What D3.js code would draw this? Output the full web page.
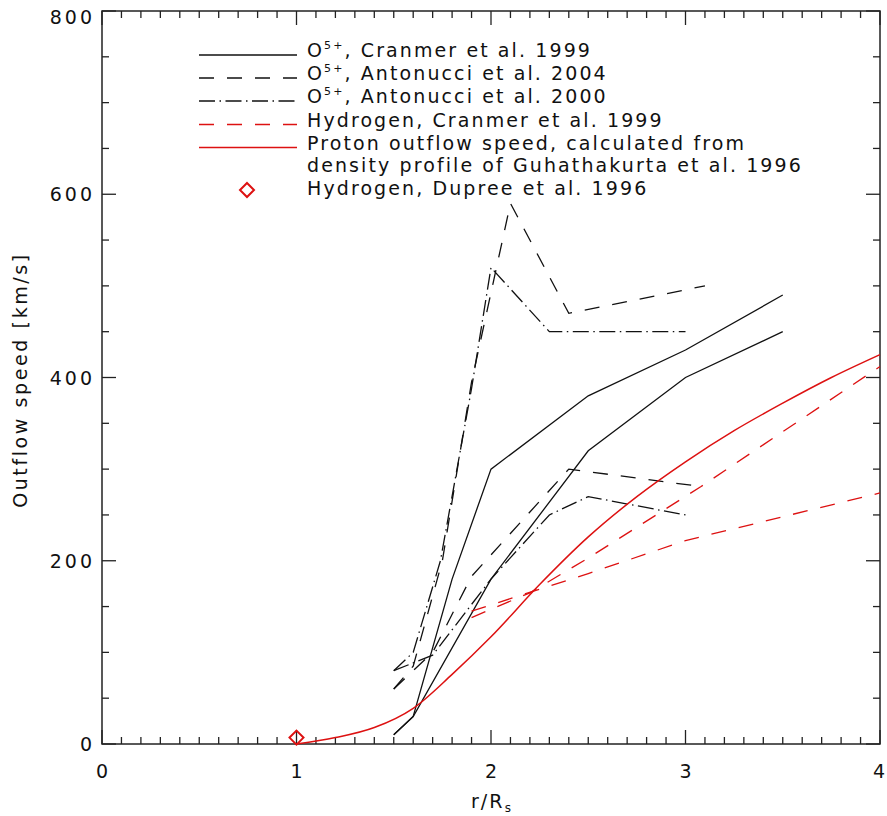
<!DOCTYPE html>
<html>
<head>
<meta charset="utf-8">
<script src="https://cdn.jsdelivr.net/npm/d3@7"></script>
<style>
  html, body { margin: 0; padding: 0; background: #fff; }
  svg text { font-family: "DejaVu Sans", sans-serif; fill: #111; }
</style>
</head>
<body>
<svg id="chart" width="887" height="816"></svg>
<script>
// ---------- data (r / Rs, outflow speed km/s) ----------
const xTickValues = [0, 1, 2, 3, 4];
const yTickValues = [0, 200, 400, 600, 800];

// O5+, Cranmer et al. 1999 (solid black, lower & upper bounds)
const o5CranmerUpper = [[1.5, 10], [1.6, 30], [1.8, 180], [2.0, 300], [2.5, 380], [3.0, 430], [3.5, 490]];
const o5CranmerLower = [[1.5, 10], [1.6, 30], [2.0, 180], [2.5, 320], [3.0, 400], [3.5, 450]];

// O5+, Antonucci et al. 2004 (dashed black)
const o5Antonucci04Upper = [[1.5, 60], [1.6, 85], [1.75, 200], [1.9, 395], [2.1, 590], [2.4, 470], [3.1, 500]];
const o5Antonucci04Lower = [[1.5, 60], [1.7, 100], [1.9, 183], [2.4, 300], [3.08, 281]];

// O5+, Antonucci et al. 2000 (dash-dot black)
const o5Antonucci00Upper = [[1.5, 80], [1.6, 100], [1.74, 200], [1.9, 388], [2.0, 520], [2.3, 450], [3.0, 450]];
const o5Antonucci00Lower = [[1.5, 80], [1.7, 97], [2.0, 180], [2.3, 250], [2.5, 270], [3.0, 250]];

// Hydrogen, Cranmer et al. 1999 (dashed red)
const hCranmerUpper = [[1.9, 138], [2.2, 165], [2.5, 203], [3.08, 281], [4.0, 412]];
const hCranmerLower = [[1.9, 145], [2.5, 186], [3.0, 222], [4.0, 274]];

// Proton outflow speed from Guhathakurta et al. 1996 density profile (solid red)
const protonSpeed = [[1.0, 0], [1.2, 7], [1.4, 18], [1.6, 39], [1.8, 76], [2.0, 117], [2.25, 174],
                     [2.5, 226], [2.75, 270], [3.0, 308], [3.25, 342], [3.5, 372], [3.75, 400], [4.0, 425]];

// Hydrogen, Dupree et al. 1996 (red diamond)
const hDupree = [[1.0, 7]];

const legendLabels = [
  ["O", "5+", ", Cranmer et al. 1999"],
  ["O", "5+", ", Antonucci et al. 2004"],
  ["O", "5+", ", Antonucci et al. 2000"],
  ["Hydrogen, Cranmer et al. 1999"],
  ["Proton outflow speed, calculated from", "density profile of Guhathakurta et al. 1996"],
  ["Hydrogen, Dupree et al. 1996"]
];

// ---------- layout ----------
const svg = d3.select("#chart");
const x = d3.scaleLinear().domain([0, 4]).range([102, 880]);
const y = d3.scaleLinear().domain([0, 800]).range([744, 11]);

const BLACK = "#111";
const RED = "#dd1111";
const DASH = "15,13";
const DASHDOT = "16,4.5,1.5,4.5";
const fontSize = 19;
const letterSp = 2.1;
const tickSp = 3;

// ---------- axes (ticks inward on all four sides) ----------
const axisG = svg.append("g").attr("stroke", "#222").attr("stroke-width", 1.3);
const xMinor = d3.range(0, 4.0001, 0.1);
const yMinor = d3.range(0, 800.001, 50);
xMinor.forEach(v => {
  const major = Math.abs(v - Math.round(v)) < 1e-6;
  const len = major ? 14 : 7;
  axisG.append("line").attr("x1", x(v)).attr("x2", x(v)).attr("y1", y(0)).attr("y2", y(0) - len);
  axisG.append("line").attr("x1", x(v)).attr("x2", x(v)).attr("y1", y(800)).attr("y2", y(800) + len);
});
yMinor.forEach(v => {
  const major = v % 200 === 0;
  const len = major ? 14 : 7;
  axisG.append("line").attr("y1", y(v)).attr("y2", y(v)).attr("x1", x(0)).attr("x2", x(0) + len);
  axisG.append("line").attr("y1", y(v)).attr("y2", y(v)).attr("x1", x(4)).attr("x2", x(4) - len);
});
svg.append("rect").attr("x", x(0)).attr("y", y(800)).attr("width", x(4) - x(0)).attr("height", y(0) - y(800))
  .attr("fill", "none").attr("stroke", "#222").attr("stroke-width", 1.5);

// tick labels
svg.append("g").selectAll("text").data(xTickValues).join("text")
  .attr("x", d => Math.min(x(d), 879)).attr("y", 778).attr("text-anchor", "middle")
  .attr("font-size", fontSize).text(d => d);
svg.append("g").selectAll("text").data(yTickValues).join("text")
  .attr("x", 92 + tickSp).attr("y", d => Math.max(y(d) + 7, 24)).attr("text-anchor", "end")
  .attr("font-size", fontSize).attr("letter-spacing", tickSp).text(d => d);

// axis titles
const xt = svg.append("text").attr("x", 492).attr("y", 808).attr("text-anchor", "middle")
  .attr("font-size", fontSize).attr("letter-spacing", letterSp);
xt.append("tspan").text("r/R");
xt.append("tspan").attr("font-size", 12).attr("dy", 4).text("s");
svg.append("text").attr("transform", "translate(27,380) rotate(-90)").attr("text-anchor", "middle")
  .attr("font-size", fontSize).attr("letter-spacing", 2.6).text("Outflow speed [km/s]");

// ---------- series ----------
const line = d3.line().x(d => x(d[0])).y(d => y(d[1]));
const smooth = d3.line().x(d => x(d[0])).y(d => y(d[1])).curve(d3.curveMonotoneX);
const plot = svg.append("g").attr("fill", "none").attr("stroke-width", 1.3);

const seriesDefs = [
  { data: o5CranmerUpper, color: BLACK, dash: null },
  { data: o5CranmerLower, color: BLACK, dash: null },
  { data: o5Antonucci04Upper, color: BLACK, dash: DASH },
  { data: o5Antonucci04Lower, color: BLACK, dash: DASH },
  { data: o5Antonucci00Upper, color: BLACK, dash: DASHDOT },
  { data: o5Antonucci00Lower, color: BLACK, dash: DASHDOT },
  { data: hCranmerUpper, color: RED, dash: DASH },
  { data: hCranmerLower, color: RED, dash: DASH }
];
seriesDefs.forEach(s => {
  plot.append("path").attr("d", line(s.data)).attr("stroke", s.color)
    .attr("stroke-dasharray", s.dash);
});
plot.append("path").attr("d", smooth(protonSpeed)).attr("stroke", RED).attr("stroke-width", 1.5);

const diamond = (cx, cy, r) => `M${cx},${cy - r}L${cx + r},${cy}L${cx},${cy + r}L${cx - r},${cy}Z`;
plot.selectAll(".dupree").data(hDupree).join("path").attr("class", "dupree")
  .attr("d", d => diamond(x(d[0]), y(d[1]), 7)).attr("stroke", RED).attr("stroke-width", 2);

// ---------- legend ----------
const lg = svg.append("g");
const lx1 = 199, lx2 = 297, tx = 307;
const rowY = [57, 80, 103, 126.5, 149.5, 195];
const legendStyles = [
  { color: BLACK, dash: null }, { color: BLACK, dash: DASH }, { color: BLACK, dash: DASHDOT },
  { color: RED, dash: DASH }, { color: RED, dash: null }
];
legendStyles.forEach((s, i) => {
  lg.append("line").attr("x1", lx1).attr("x2", lx2).attr("y1", rowY[i] - 2).attr("y2", rowY[i] - 2)
    .attr("stroke", s.color).attr("stroke-width", 1.3).attr("stroke-dasharray", s.dash);
});
lg.append("path").attr("d", diamond(247, 190, 7)).attr("fill", "none").attr("stroke", RED).attr("stroke-width", 2);

legendLabels.forEach((lab, i) => {
  if (lab.length === 3) {
    const t = lg.append("text").attr("x", tx).attr("y", rowY[i]).attr("font-size", fontSize).attr("letter-spacing", letterSp);
    t.append("tspan").text(lab[0]);
    t.append("tspan").attr("font-size", 11).attr("dy", -8).text(lab[1]);
    t.append("tspan").attr("dy", 8).text(lab[2]);
  } else if (lab.length === 2) {
    lg.append("text").attr("x", tx).attr("y", rowY[i]).attr("font-size", fontSize).attr("letter-spacing", letterSp).text(lab[0]);
    lg.append("text").attr("x", tx).attr("y", rowY[i] + 22.5).attr("font-size", fontSize).attr("letter-spacing", letterSp).text(lab[1]);
  } else {
    lg.append("text").attr("x", tx).attr("y", rowY[i]).attr("font-size", fontSize).attr("letter-spacing", letterSp).text(lab[0]);
  }
});
</script>
</body>
</html>
